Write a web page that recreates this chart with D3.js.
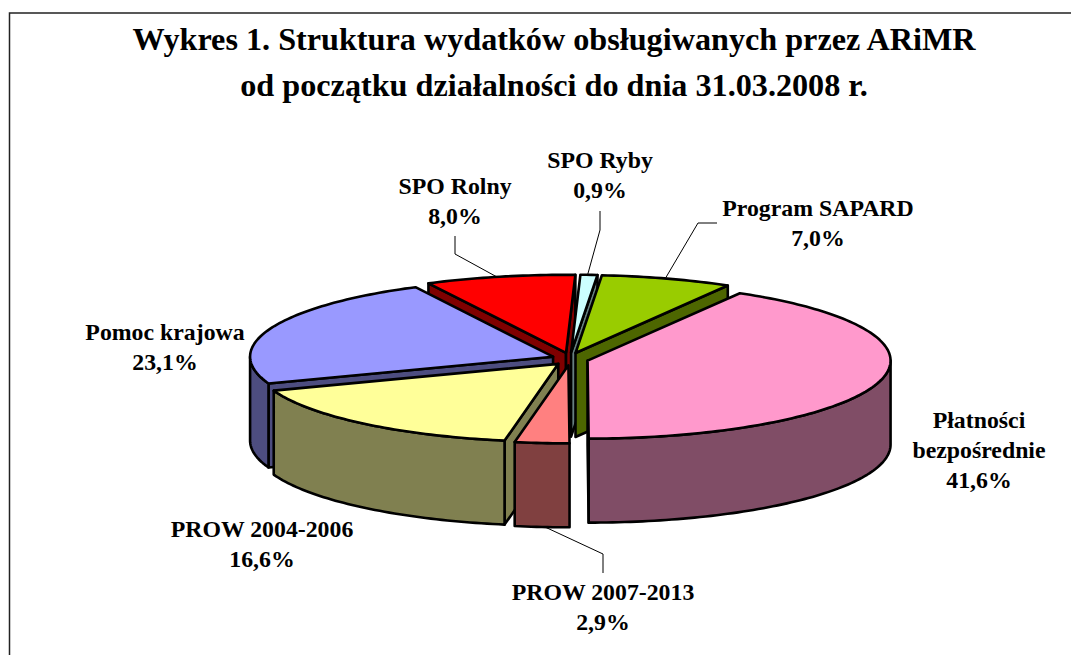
<!DOCTYPE html>
<html>
<head>
<meta charset="utf-8">
<script src="https://cdn.jsdelivr.net/npm/d3@7"></script>
<style>
  html, body { margin: 0; padding: 0; background: #fff; overflow: hidden; }
  text { font-family: "Liberation Serif", serif; font-weight: bold; fill: #000; }
</style>
</head>
<body>
<script>
// Chart data, clockwise from the SAPARD slice
var categories = ["Program SAPARD", "Płatności bezpośrednie", "PROW 2007-2013", "PROW 2004-2006", "Pomoc krajowa", "SPO Rolny", "SPO Ryby"];
var values = [7.0, 41.6, 2.9, 16.6, 23.1, 8.0, 0.9];
var valueLabels = ["7,0%", "41,6%", "2,9%", "16,6%", "23,1%", "8,0%", "0,9%"];
var topColors = ["#99CC00", "#FF99CC", "#FF8080", "#FFFF99", "#9999FF", "#FF0000", "#CCFFFF"];
var wallColors = ["#4D6600", "#804D66", "#804040", "#808050", "#4D4D80", "#800000", "#668080"];
// back slices get painted first
var paintOrder = [5, 6, 0, 4, 3, 2, 1];

var width = 1071, height = 655;
var depth = 84, explode = 0.06;

var svg = d3.select("body").append("svg")
  .attr("width", width)
  .attr("height", height);

// Frame, open on the right
svg.append("path")
  .attr("d", "M9.5,655V13H1071")
  .attr("fill", "none")
  .attr("stroke", "#222")
  .attr("stroke-width", 1.5);

// Title
var titleLines = ["Wykres 1. Struktura wydatków obsługiwanych przez ARiMR", "od początku działalności do dnia 31.03.2008 r."];
svg.selectAll(".title")
  .data(titleLines)
  .enter()
  .append("text")
  .attr("class", "title")
  .attr("x", 554)
  .attr("y", function(d, i) { return 50 + i * 46; })
  .attr("text-anchor", "middle")
  .style("font-size", "32.2px")
  .text(function(d) { return d; });

// Unit circle mapped on to the tilted ellipse
var x = d3.scaleLinear().domain([-1, 1]).range([267, 873]);
var y = d3.scaleLinear().domain([-1, 1]).range([281, 437]);

var pie = d3.pie()
  .sort(null)
  .startAngle(5 * Math.PI / 180)
  .endAngle(365 * Math.PI / 180);
var arcs = pie(values);

var line = d3.line()
  .x(function(d) { return d[0]; })
  .y(function(d) { return d[1]; });

function sample(a0, a1) {
  var n = Math.max(2, Math.ceil((a1 - a0) / 0.02));
  return d3.range(n + 1).map(function(i) { return a0 + (a1 - a0) * i / n; });
}

// Leader lines, same order as categories
var leaders = [
  [[665, 279], [698, 223], [717, 223]],
  null,
  [[545, 527], [603, 554], [603, 573]],
  null,
  null,
  [[497, 277], [455, 254], [455, 236]],
  [[587, 277], [600, 230], [600, 211]]
];
svg.selectAll(".leader")
  .data(leaders.filter(function(d) { return d; }))
  .enter()
  .append("path")
  .attr("class", "leader")
  .attr("d", line)
  .attr("fill", "none")
  .attr("stroke", "#000")
  .attr("stroke-width", 1);

var slices = svg.selectAll(".slice")
  .data(paintOrder.map(function(i) { return { i: i, arc: arcs[i] }; }))
  .enter()
  .append("g")
  .attr("class", "slice")
  .attr("stroke", "#000")
  .attr("stroke-width", 2.6)
  .attr("stroke-linejoin", "round");

slices.each(function(d) {
  var g = d3.select(this);
  var a0 = d.arc.startAngle, a1 = d.arc.endAngle, mid = (a0 + a1) / 2;
  // exploded centre of this slice
  var ox = Math.sin(mid) * explode, oy = -Math.cos(mid) * explode * 1.35;
  var px = function(a) { return x(ox + Math.sin(a)); };
  var py = function(a) { return y(oy - Math.cos(a)); };
  var apex = [x(ox), y(oy)];

  function wall(a) {
    var p = [px(a), py(a)];
    return line([apex, p, [p[0], p[1] + depth], [apex[0], apex[1] + depth]]) + "Z";
  }
  // the radial walls only show when they face the viewer
  if (Math.sin(a0) < 0) g.append("path").attr("d", wall(a0)).attr("fill", wallColors[d.i]);
  if (Math.sin(a1) > 0) g.append("path").attr("d", wall(a1)).attr("fill", wallColors[d.i]);

  // outer rim, front half of the ellipse only
  var r0 = Math.max(a0, Math.PI / 2), r1 = Math.min(a1, 3 * Math.PI / 2);
  if (r1 > r0) {
    var front = sample(r0, r1).map(function(a) { return [px(a), py(a)]; });
    var back = front.slice().reverse().map(function(p) { return [p[0], p[1] + depth]; });
    g.append("path").attr("d", line(front.concat(back)) + "Z").attr("fill", wallColors[d.i]);
  }

  // top face
  var rim = sample(a0, a1).map(function(a) { return [px(a), py(a)]; });
  g.append("path").attr("d", line([apex].concat(rim)) + "Z").attr("fill", topColors[d.i]);
});

// Data labels: name lines then the value
var labelPos = [[818, 216], [979, 428], [603, 600], [262, 537], [165, 340], [455, 194], [600, 168]];
var labelLines = [["Program SAPARD"], ["Płatności", "bezpośrednie"], ["PROW 2007-2013"], ["PROW 2004-2006"], ["Pomoc krajowa"], ["SPO Rolny"], ["SPO Ryby"]];
var labelStep = 30;

categories.forEach(function(name, i) {
  var t = svg.append("text")
    .attr("text-anchor", "middle")
    .style("font-size", "23.8px");
  labelLines[i].concat([valueLabels[i]]).forEach(function(s, k) {
    t.append("tspan")
      .attr("x", labelPos[i][0])
      .attr("y", labelPos[i][1] + k * labelStep)
      .text(s);
  });
});
</script>
</body>
</html>
